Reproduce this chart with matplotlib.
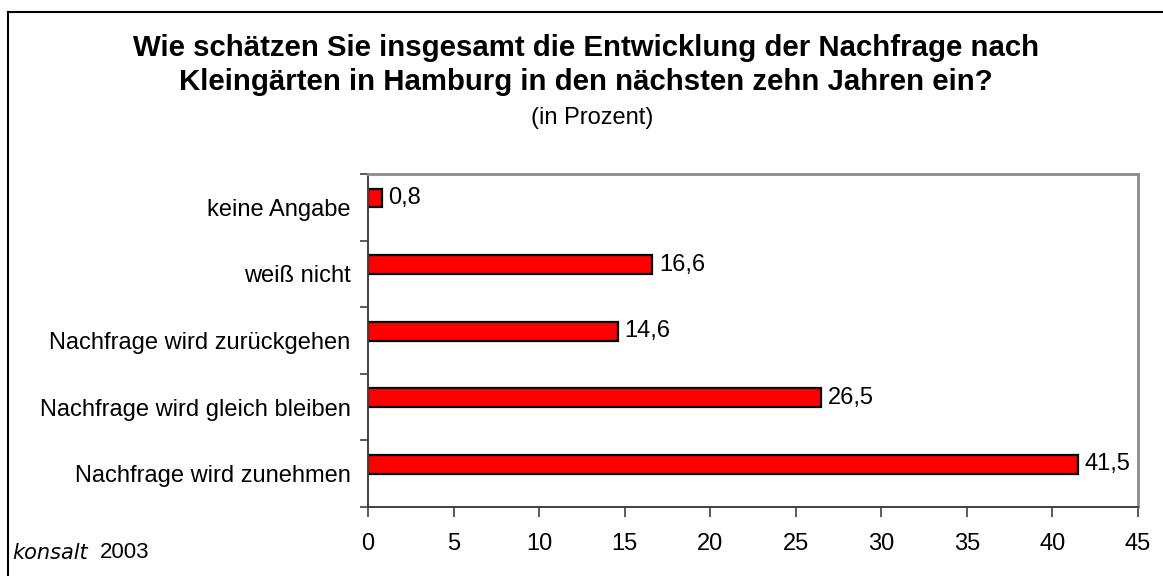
import matplotlib
matplotlib.use("Agg")
import matplotlib.pyplot as plt
from matplotlib.lines import Line2D
import numpy as np

plt.rcParams['font.family'] = ['Liberation Sans', 'DejaVu Sans']

# data (bottom to top)
categories = ["Nachfrage wird zunehmen", "Nachfrage wird gleich bleiben",
              "Nachfrage wird zurückgehen", "weiß nicht", "keine Angabe"]
values = [41.5, 26.5, 14.6, 16.6, 0.8]
xticks = [0, 5, 10, 15, 20, 25, 30, 35, 40, 45]

fig = plt.figure(figsize=(11.63, 5.76), dpi=100)
ax = fig.add_axes([368 / 1163, 1 - 507 / 576, 770 / 1163, 333 / 576])

y = np.arange(len(categories))
bar_shift = 0.14  # bars sit slightly above the category centre
ax.barh(y + bar_shift, values, height=0.28, color='#ff0000',
        edgecolor='black', linewidth=1.6)

for yi, v in zip(y, values):
    ax.text(v + 0.4, yi + bar_shift, f"{v:.1f}".replace('.', ','),
            va='center', ha='left', fontsize=17)

ax.set_xlim(0, 45)
ax.set_ylim(-0.5, len(categories) - 0.5)
ax.set_xticks(xticks)
ax.set_xticklabels([str(t) for t in xticks], fontsize=17)
ax.tick_params(axis='x', direction='out', length=7, width=1.2,
               color='#404040', pad=12)

# boundary ticks on y, labels at centres
ax.set_yticks(np.arange(-0.5, len(categories), 1.0))
ax.set_yticklabels([])
ax.set_yticks(y, minor=True)
ax.set_yticklabels(categories, minor=True, fontsize=17)
ax.tick_params(axis='y', which='major', direction='out', length=6,
               width=1.2, color='#404040')
ax.tick_params(axis='y', which='minor', length=0, pad=12.5)

for side in ['top', 'right']:
    ax.spines[side].set_color('#8c8c8c')
    ax.spines[side].set_linewidth(2)
for side in ['left', 'bottom']:
    ax.spines[side].set_color('#404040')
    ax.spines[side].set_linewidth(1.4)

# titles
tx = 586 / 1163
fig.text(tx, 1 - 48 / 576,
         "Wie schätzen Sie insgesamt die Entwicklung der Nachfrage nach",
         ha='center', va='center', fontsize=21.2, fontweight='bold')
fig.text(tx, 1 - 82 / 576,
         "Kleingärten in Hamburg in den nächsten zehn Jahren ein?",
         ha='center', va='center', fontsize=21.2, fontweight='bold')
fig.text(592 / 1163, 1 - 118 / 576, "(in Prozent)",
         ha='center', va='center', fontsize=17)

# source note
fig.text(12 / 1163, 1 - 553 / 576, "konsalt", ha='left', va='center',
         fontsize=15, fontstyle='italic', family=['DejaVu Sans'])
fig.text(100 / 1163, 1 - 553 / 576, "2003", ha='left', va='center',
         fontsize=16)

# outer frame (runs off the right and bottom edge)
fig.add_artist(Line2D([8 / 1163, 1.0], [1 - 12 / 576] * 2,
                      transform=fig.transFigure, color='black', lw=1.5))
fig.add_artist(Line2D([8 / 1163] * 2, [0.0, 1 - 12 / 576],
                      transform=fig.transFigure, color='black', lw=1.5))

fig.savefig("out.png", dpi=100)
